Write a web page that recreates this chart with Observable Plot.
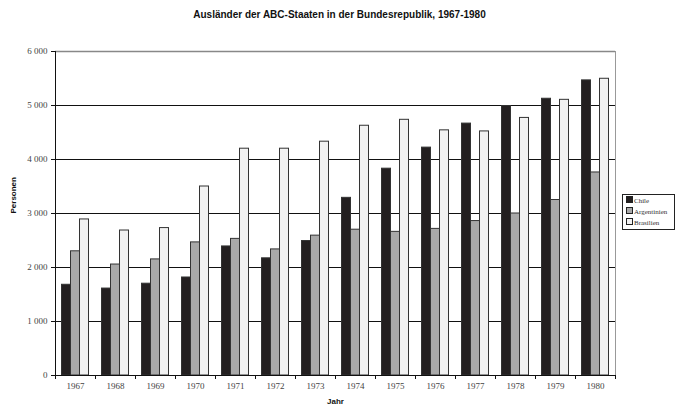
<!DOCTYPE html>
<html>
<head>
<meta charset="utf-8">
<script src="https://cdn.jsdelivr.net/npm/d3@7"></script>
<script src="https://cdn.jsdelivr.net/npm/@observablehq/plot@0.6"></script>
<style>
  html, body { margin: 0; padding: 0; background: #fff; }
  #wrap { position: relative; width: 679px; height: 408px; }
  #title { position: absolute; top: 9px; left: 0; width: 679px; text-align: center;
           font: bold 10px "Liberation Sans", Arial, sans-serif; color: #111; }
  #chart { position: absolute; top: 30px; left: 0; }
  #legend { position: absolute; left: 622px; top: 194px; width: 53px; height: 36px;
            border: 1px solid #222; background: #fff; box-sizing: border-box;
            font: 7px "Liberation Serif", serif; color: #333; padding: 1px 0 0 3px; }
  #legend div { height: 11px; line-height: 11px; white-space: nowrap; }
  #legend span.sw { display: inline-block; width: 5px; height: 5px; border: 1px solid #222;
                    margin-right: 1px; vertical-align: 0px; }
</style>
</head>
<body>
<div id="wrap">
  <div id="title"></div>
  <div id="chart"></div>
  <div id="legend"></div>
</div>
<script>
const titleText = "Ausländer der ABC-Staaten in der Bundesrepublik, 1967-1980";
const yLabel = "Personen";
const xLabel = "Jahr";
const years = [1967, 1968, 1969, 1970, 1971, 1972, 1973, 1974, 1975, 1976, 1977, 1978, 1979, 1980];
const seriesNames = ["Chile", "Argentinien", "Brasilien"];
const chile       = [1680, 1610, 1700, 1815, 2390, 2170, 2490, 3290, 3830, 4220, 4665, 4990, 5125, 5465];
const argentinien = [2300, 2055, 2150, 2465, 2530, 2335, 2590, 2700, 2660, 2715, 2860, 3000, 3250, 3760];
const brasilien   = [2890, 2685, 2730, 3500, 4200, 4200, 4330, 4625, 4735, 4540, 4520, 4770, 5105, 5495];
const seriesColors = ["#231f20", "#a9a9a9", "#f2f2f2"];
const yTicks = [0, 1000, 2000, 3000, 4000, 5000, 6000];

const seriesValues = [chile, argentinien, brasilien];
const barW = 0.225; // fraction of a year slot per bar
const data = [];
years.forEach((yr, i) => {
  seriesValues.forEach((vals, s) => {
    const start = yr - 1.5 * barW + s * barW;
    data.push({year: yr, series: seriesNames[s], value: vals[i], x1: start, x2: start + barW});
  });
});
const bounds = [years[0] - 0.5, ...years.map(y => y + 0.5)];
const fmt = d => d3.format(",")(d).replace(/,/g, " ");

document.getElementById("title").textContent = titleText;

const chart = Plot.plot({
  width: 679,
  height: 378,
  marginLeft: 55,
  marginRight: 64,
  marginTop: 21,
  marginBottom: 33,
  style: {fontFamily: "'Liberation Serif', serif", fontSize: "9px", color: "#444", background: "#fff"},
  x: {type: "linear", domain: [years[0] - 0.5, years[years.length - 1] + 0.5]},
  y: {domain: [0, 6000]},
  color: {domain: seriesNames, range: seriesColors},
  marks: [
    Plot.ruleY(yTicks.filter(d => d > 0 && d < 6000), {stroke: "#111", strokeWidth: 1}),
    Plot.ruleY([6000], {stroke: "#888", strokeWidth: 1.5}),
    Plot.ruleX([bounds[bounds.length - 1]], {y1: 0, y2: 6000, stroke: "#999", strokeWidth: 1}),
    Plot.rectY(data, {x1: "x1", x2: "x2", y1: 0, y2: "value", fill: "series", stroke: "#333", strokeWidth: 1}),
    Plot.ruleX([bounds[0]], {y1: 0, y2: 6000, stroke: "#111", strokeWidth: 1}),
    Plot.ruleY([0], {stroke: "#111", strokeWidth: 1}),
    Plot.axisY({ticks: yTicks, tickFormat: fmt, tickSize: 4, tickPadding: 4, label: null, stroke: "#111"}),
    Plot.axisX({ticks: bounds, tickFormat: () => "", tickSize: 4, label: null, stroke: "#111"}),
    Plot.axisX({ticks: years, tickFormat: d => String(d), tickSize: 0, tickPadding: 7, label: null}),
    Plot.text([yLabel], {frameAnchor: "left", dx: -42, rotate: -90, text: d => d,
      fontFamily: "'Liberation Sans', Arial, sans-serif", fontWeight: "bold", fontSize: 8, fill: "#111"}),
    Plot.text([xLabel], {frameAnchor: "bottom", dy: 28, text: d => d,
      fontFamily: "'Liberation Sans', Arial, sans-serif", fontWeight: "bold", fontSize: 8, fill: "#111"})
  ]
});
document.getElementById("chart").appendChild(chart);

const legend = document.getElementById("legend");
seriesNames.forEach((name, i) => {
  const row = document.createElement("div");
  const sw = document.createElement("span");
  sw.className = "sw";
  sw.style.background = seriesColors[i];
  row.appendChild(sw);
  row.appendChild(document.createTextNode(name));
  legend.appendChild(row);
});
</script>
</body>
</html>
